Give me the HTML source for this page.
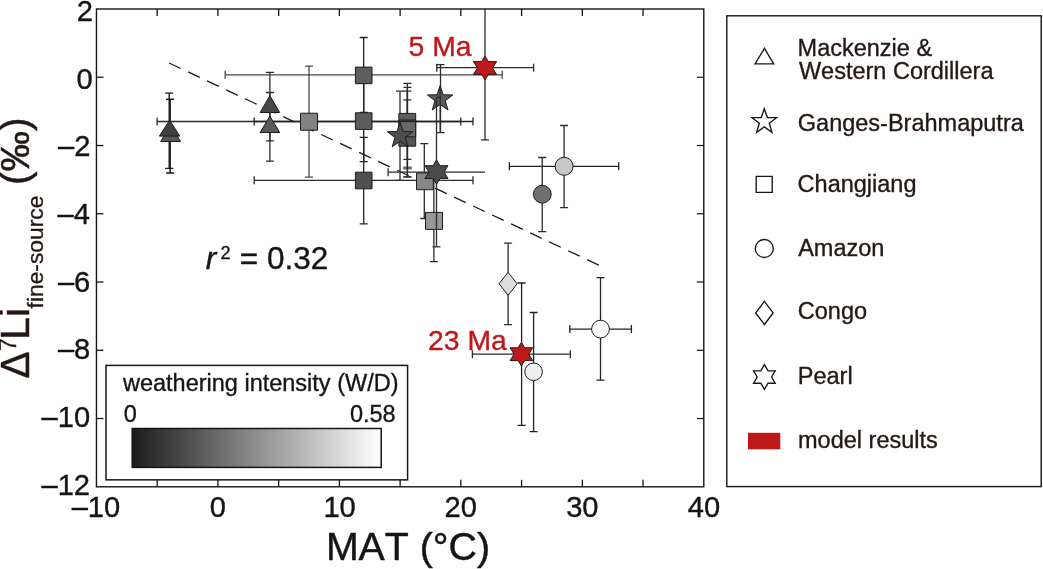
<!DOCTYPE html>
<html><head><meta charset="utf-8"><title>figure</title>
<style>html,body{margin:0;padding:0;background:#fff}svg{display:block}text{font-kerning:none}</style></head>
<body>
<svg width="1043" height="569" viewBox="0 0 1043 569" font-family="Liberation Sans, Arial, Helvetica, sans-serif">
<rect x="0" y="0" width="1043" height="569" fill="#fff"/>
<defs><linearGradient id="g" x1="0" x2="1" y1="0" y2="0"><stop offset="0" stop-color="#1c1c1c"/><stop offset="1" stop-color="#ffffff"/></linearGradient>
<clipPath id="cp"><rect x="96.45" y="9.0" width="607.3499999999999" height="477.8"/></clipPath></defs>
<line x1="169.1" y1="63.0" x2="599.0" y2="265.25" stroke="#1a1a1a" stroke-width="1.3" stroke-dasharray="12.85 8.15"/>
<g clip-path="url(#cp)">
<line x1="169.20" y1="93.10" x2="169.20" y2="168.30" stroke="#151515" stroke-width="1.35" />
<line x1="165.20" y1="93.10" x2="173.20" y2="93.10" stroke="#151515" stroke-width="1.35" />
<line x1="165.20" y1="168.30" x2="173.20" y2="168.30" stroke="#151515" stroke-width="1.35" />
<line x1="170.10" y1="99.30" x2="170.10" y2="173.00" stroke="#151515" stroke-width="1.5" />
<line x1="166.10" y1="99.30" x2="174.10" y2="99.30" stroke="#151515" stroke-width="1.5" />
<line x1="166.10" y1="173.00" x2="174.10" y2="173.00" stroke="#151515" stroke-width="1.5" />
<line x1="269.90" y1="72.40" x2="269.90" y2="140.80" stroke="#2b2b2b" stroke-width="1.3" />
<line x1="265.90" y1="72.40" x2="273.90" y2="72.40" stroke="#2b2b2b" stroke-width="1.3" />
<line x1="265.90" y1="140.80" x2="273.90" y2="140.80" stroke="#2b2b2b" stroke-width="1.3" />
<line x1="269.90" y1="92.50" x2="269.90" y2="161.20" stroke="#2b2b2b" stroke-width="1.3" />
<line x1="265.90" y1="92.50" x2="273.90" y2="92.50" stroke="#2b2b2b" stroke-width="1.3" />
<line x1="265.90" y1="161.20" x2="273.90" y2="161.20" stroke="#2b2b2b" stroke-width="1.3" />
<line x1="309.00" y1="66.10" x2="309.00" y2="177.10" stroke="#4a4a4a" stroke-width="1.3" />
<line x1="305.00" y1="66.10" x2="313.00" y2="66.10" stroke="#4a4a4a" stroke-width="1.3" />
<line x1="305.00" y1="177.10" x2="313.00" y2="177.10" stroke="#4a4a4a" stroke-width="1.3" />
<line x1="157.10" y1="121.50" x2="460.80" y2="121.50" stroke="#2b2b2b" stroke-width="1.3" />
<line x1="157.10" y1="117.50" x2="157.10" y2="125.50" stroke="#2b2b2b" stroke-width="1.3" />
<line x1="460.80" y1="117.50" x2="460.80" y2="125.50" stroke="#2b2b2b" stroke-width="1.3" />
<line x1="363.70" y1="37.50" x2="363.70" y2="112.30" stroke="#222" stroke-width="1.3" />
<line x1="359.70" y1="37.50" x2="367.70" y2="37.50" stroke="#222" stroke-width="1.3" />
<line x1="359.70" y1="112.30" x2="367.70" y2="112.30" stroke="#222" stroke-width="1.3" />
<line x1="225.20" y1="74.80" x2="502.20" y2="74.80" stroke="#454545" stroke-width="1.3" />
<line x1="225.20" y1="70.80" x2="225.20" y2="78.80" stroke="#454545" stroke-width="1.3" />
<line x1="502.20" y1="70.80" x2="502.20" y2="78.80" stroke="#454545" stroke-width="1.3" />
<line x1="363.70" y1="81.20" x2="363.70" y2="161.60" stroke="#222" stroke-width="1.3" />
<line x1="359.70" y1="81.20" x2="367.70" y2="81.20" stroke="#222" stroke-width="1.3" />
<line x1="359.70" y1="161.60" x2="367.70" y2="161.60" stroke="#222" stroke-width="1.3" />
<line x1="254.20" y1="121.50" x2="473.00" y2="121.50" stroke="#222" stroke-width="1.3" />
<line x1="254.20" y1="117.50" x2="254.20" y2="125.50" stroke="#222" stroke-width="1.3" />
<line x1="473.00" y1="117.50" x2="473.00" y2="125.50" stroke="#222" stroke-width="1.3" />
<line x1="363.70" y1="137.30" x2="363.70" y2="223.80" stroke="#222" stroke-width="1.3" />
<line x1="359.70" y1="137.30" x2="367.70" y2="137.30" stroke="#222" stroke-width="1.3" />
<line x1="359.70" y1="223.80" x2="367.70" y2="223.80" stroke="#222" stroke-width="1.3" />
<line x1="254.20" y1="180.30" x2="473.00" y2="180.30" stroke="#2b2b2b" stroke-width="1.3" />
<line x1="254.20" y1="176.30" x2="254.20" y2="184.30" stroke="#2b2b2b" stroke-width="1.3" />
<line x1="473.00" y1="176.30" x2="473.00" y2="184.30" stroke="#2b2b2b" stroke-width="1.3" />
<line x1="407.40" y1="83.40" x2="407.40" y2="159.40" stroke="#2b2b2b" stroke-width="1.3" />
<line x1="403.40" y1="83.40" x2="411.40" y2="83.40" stroke="#2b2b2b" stroke-width="1.3" />
<line x1="403.40" y1="159.40" x2="411.40" y2="159.40" stroke="#2b2b2b" stroke-width="1.3" />
<line x1="407.40" y1="87.40" x2="407.40" y2="168.10" stroke="#2b2b2b" stroke-width="1.3" />
<line x1="403.40" y1="87.40" x2="411.40" y2="87.40" stroke="#2b2b2b" stroke-width="1.3" />
<line x1="403.20" y1="168.00" x2="411.80" y2="168.00" stroke="#6a6a6a" stroke-width="3.2" />
<line x1="407.40" y1="91.20" x2="407.40" y2="176.80" stroke="#2b2b2b" stroke-width="1.3" />
<line x1="403.40" y1="91.20" x2="411.40" y2="91.20" stroke="#2b2b2b" stroke-width="1.3" />
<line x1="403.40" y1="176.80" x2="411.40" y2="176.80" stroke="#2b2b2b" stroke-width="1.3" />
<line x1="407.40" y1="99.90" x2="407.40" y2="176.80" stroke="#2b2b2b" stroke-width="1.3" />
<line x1="403.40" y1="99.90" x2="411.40" y2="99.90" stroke="#2b2b2b" stroke-width="1.3" />
<line x1="403.40" y1="176.80" x2="411.40" y2="176.80" stroke="#2b2b2b" stroke-width="1.3" />
<line x1="424.30" y1="143.70" x2="424.30" y2="218.50" stroke="#2b2b2b" stroke-width="1.3" />
<line x1="420.30" y1="143.70" x2="428.30" y2="143.70" stroke="#2b2b2b" stroke-width="1.3" />
<line x1="420.30" y1="218.50" x2="428.30" y2="218.50" stroke="#2b2b2b" stroke-width="1.3" />
<line x1="433.90" y1="180.20" x2="433.90" y2="261.60" stroke="#2b2b2b" stroke-width="1.3" />
<line x1="429.90" y1="180.20" x2="437.90" y2="180.20" stroke="#2b2b2b" stroke-width="1.3" />
<line x1="429.90" y1="261.60" x2="437.90" y2="261.60" stroke="#2b2b2b" stroke-width="1.3" />
<line x1="400.00" y1="91.20" x2="400.00" y2="180.30" stroke="#2b2b2b" stroke-width="1.3" />
<line x1="396.00" y1="91.20" x2="404.00" y2="91.20" stroke="#2b2b2b" stroke-width="1.3" />
<line x1="396.00" y1="180.30" x2="404.00" y2="180.30" stroke="#2b2b2b" stroke-width="1.3" />
<line x1="440.50" y1="64.70" x2="440.50" y2="132.70" stroke="#2b2b2b" stroke-width="1.3" />
<line x1="436.50" y1="64.70" x2="444.50" y2="64.70" stroke="#2b2b2b" stroke-width="1.3" />
<line x1="436.50" y1="132.70" x2="444.50" y2="132.70" stroke="#2b2b2b" stroke-width="1.3" />
<line x1="542.20" y1="157.50" x2="542.20" y2="231.70" stroke="#2b2b2b" stroke-width="1.3" />
<line x1="538.20" y1="157.50" x2="546.20" y2="157.50" stroke="#2b2b2b" stroke-width="1.3" />
<line x1="538.20" y1="231.70" x2="546.20" y2="231.70" stroke="#2b2b2b" stroke-width="1.3" />
<line x1="564.10" y1="125.50" x2="564.10" y2="207.60" stroke="#2b2b2b" stroke-width="1.3" />
<line x1="560.10" y1="125.50" x2="568.10" y2="125.50" stroke="#2b2b2b" stroke-width="1.3" />
<line x1="560.10" y1="207.60" x2="568.10" y2="207.60" stroke="#2b2b2b" stroke-width="1.3" />
<line x1="509.40" y1="166.30" x2="618.70" y2="166.30" stroke="#222" stroke-width="1.3" />
<line x1="509.40" y1="162.30" x2="509.40" y2="170.30" stroke="#222" stroke-width="1.3" />
<line x1="618.70" y1="162.30" x2="618.70" y2="170.30" stroke="#222" stroke-width="1.3" />
<line x1="600.50" y1="277.60" x2="600.50" y2="380.20" stroke="#222" stroke-width="1.3" />
<line x1="596.50" y1="277.60" x2="604.50" y2="277.60" stroke="#222" stroke-width="1.3" />
<line x1="596.50" y1="380.20" x2="604.50" y2="380.20" stroke="#222" stroke-width="1.3" />
<line x1="569.80" y1="329.10" x2="631.40" y2="329.10" stroke="#222" stroke-width="1.3" />
<line x1="569.80" y1="325.10" x2="569.80" y2="333.10" stroke="#222" stroke-width="1.3" />
<line x1="631.40" y1="325.10" x2="631.40" y2="333.10" stroke="#222" stroke-width="1.3" />
<line x1="533.60" y1="312.50" x2="533.60" y2="431.70" stroke="#222" stroke-width="1.3" />
<line x1="529.60" y1="312.50" x2="537.60" y2="312.50" stroke="#222" stroke-width="1.3" />
<line x1="529.60" y1="431.70" x2="537.60" y2="431.70" stroke="#222" stroke-width="1.3" />
<line x1="508.10" y1="243.10" x2="508.10" y2="324.70" stroke="#2b2b2b" stroke-width="1.3" />
<line x1="504.10" y1="243.10" x2="512.10" y2="243.10" stroke="#2b2b2b" stroke-width="1.3" />
<line x1="504.10" y1="324.70" x2="512.10" y2="324.70" stroke="#2b2b2b" stroke-width="1.3" />
<line x1="485.00" y1="0.00" x2="485.00" y2="139.90" stroke="#2b2b2b" stroke-width="1.3" />
<line x1="481.00" y1="139.90" x2="489.00" y2="139.90" stroke="#2b2b2b" stroke-width="1.3" />
<line x1="436.80" y1="67.70" x2="533.60" y2="67.70" stroke="#2b2b2b" stroke-width="1.3" />
<line x1="436.80" y1="63.70" x2="436.80" y2="71.70" stroke="#2b2b2b" stroke-width="1.3" />
<line x1="533.60" y1="63.70" x2="533.60" y2="71.70" stroke="#2b2b2b" stroke-width="1.3" />
<line x1="521.60" y1="283.00" x2="521.60" y2="425.30" stroke="#222" stroke-width="1.3" />
<line x1="517.60" y1="283.00" x2="525.60" y2="283.00" stroke="#222" stroke-width="1.3" />
<line x1="517.60" y1="425.30" x2="525.60" y2="425.30" stroke="#222" stroke-width="1.3" />
<line x1="472.40" y1="354.20" x2="570.30" y2="354.20" stroke="#2b2b2b" stroke-width="1.3" />
<line x1="472.40" y1="350.20" x2="472.40" y2="358.20" stroke="#2b2b2b" stroke-width="1.3" />
<line x1="570.30" y1="350.20" x2="570.30" y2="358.20" stroke="#2b2b2b" stroke-width="1.3" />
</g>
<polygon points="170.60,125.60 180.60,141.50 160.60,141.50" fill="#585858" stroke="#1c1c1c" stroke-width="1.0" stroke-linejoin="miter"/>
<polygon points="169.60,120.20 179.80,136.10 159.40,136.10" fill="#414141" stroke="#1c1c1c" stroke-width="1.0" stroke-linejoin="miter"/>
<polygon points="269.90,116.10 279.70,132.50 260.10,132.50" fill="#5a5a5a" stroke="#1c1c1c" stroke-width="1.0" stroke-linejoin="miter"/>
<polygon points="269.90,95.70 279.70,112.50 260.10,112.50" fill="#484848" stroke="#1c1c1c" stroke-width="1.0" stroke-linejoin="miter"/>
<polygon points="300.50,113.20 317.50,113.20 317.50,130.20 300.50,130.20" fill="#828282" stroke="#1c1c1c" stroke-width="1.0" stroke-linejoin="miter"/>
<polygon points="355.40,67.10 372.00,67.10 372.00,83.70 355.40,83.70" fill="#5e5e5e" stroke="#1c1c1c" stroke-width="1.0" stroke-linejoin="miter"/>
<polygon points="355.40,112.80 372.00,112.80 372.00,129.40 355.40,129.40" fill="#5c5c5c" stroke="#1c1c1c" stroke-width="1.0" stroke-linejoin="miter"/>
<polygon points="355.40,172.20 372.00,172.20 372.00,188.80 355.40,188.80" fill="#505050" stroke="#1c1c1c" stroke-width="1.0" stroke-linejoin="miter"/>
<polygon points="398.90,113.40 415.70,113.40 415.70,130.20 398.90,130.20" fill="#5c5c5c" stroke="#1c1c1c" stroke-width="1.0" stroke-linejoin="miter"/>
<polygon points="398.90,129.40 415.70,129.40 415.70,146.20 398.90,146.20" fill="#555555" stroke="#1c1c1c" stroke-width="1.0" stroke-linejoin="miter"/>
<polygon points="398.90,120.00 415.70,120.00 415.70,136.80 398.90,136.80" fill="#686868" stroke="#1c1c1c" stroke-width="1.0" stroke-linejoin="miter"/>
<line x1="398.50" y1="121.30" x2="416.30" y2="121.30" stroke="#222" stroke-width="1.6" />
<polygon points="416.50,172.90 433.30,172.90 433.30,189.70 416.50,189.70" fill="#868686" stroke="#1c1c1c" stroke-width="1.0" stroke-linejoin="miter"/>
<polygon points="425.50,212.40 442.50,212.40 442.50,229.40 425.50,229.40" fill="#979797" stroke="#1c1c1c" stroke-width="1.0" stroke-linejoin="miter"/>
<polygon points="400.10,122.50 403.25,131.56 412.84,131.76 405.20,137.56 407.98,146.74 400.10,141.26 392.22,146.74 395.00,137.56 387.36,131.76 396.95,131.56" fill="#4f4f4f" stroke="#1c1c1c" stroke-width="1.0" stroke-linejoin="miter"/>
<polygon points="440.10,85.70 443.25,94.76 452.84,94.96 445.20,100.76 447.98,109.94 440.10,104.46 432.22,109.94 435.00,100.76 427.36,94.96 436.95,94.76" fill="#5a5a5a" stroke="#1c1c1c" stroke-width="1.0" stroke-linejoin="miter"/>
<line x1="440.20" y1="86.00" x2="440.20" y2="132.70" stroke="#2b2b2b" stroke-width="1.3" />
<line x1="436.50" y1="97.40" x2="436.50" y2="246.80" stroke="#2b2b2b" stroke-width="1.3" />
<line x1="432.50" y1="246.80" x2="440.50" y2="246.80" stroke="#2b2b2b" stroke-width="1.3" />
<line x1="436.50" y1="97.40" x2="440.70" y2="97.40" stroke="#2b2b2b" stroke-width="1.3" />
<line x1="388.10" y1="172.20" x2="485.00" y2="172.20" stroke="#2b2b2b" stroke-width="1.3" />
<line x1="388.10" y1="168.20" x2="388.10" y2="176.20" stroke="#2b2b2b" stroke-width="1.3" />
<polygon points="436.50,160.00 440.04,165.70 448.00,165.70 444.02,172.10 448.00,178.50 440.04,178.50 436.50,184.20 432.96,178.50 425.00,178.50 428.98,172.10 425.00,165.70 432.96,165.70" fill="#4a4a4a" stroke="#1c1c1c" stroke-width="1.0" stroke-linejoin="miter"/>
<circle cx="542.30" cy="194.20" r="8.90" fill="#707070" stroke="#1c1c1c" stroke-width="1.0"/>
<circle cx="564.10" cy="166.30" r="9.00" fill="#c8c8c8" stroke="#1c1c1c" stroke-width="1.0"/>
<circle cx="600.50" cy="329.10" r="8.90" fill="#ffffff" stroke="#1c1c1c" stroke-width="1.0"/>
<polygon points="508.10,272.30 517.10,283.80 508.10,295.30 499.10,283.80" fill="#dcdcdc" stroke="#1c1c1c" stroke-width="1.0" stroke-linejoin="miter"/>
<polygon points="485.00,56.20 488.44,61.60 496.60,61.60 492.52,68.00 496.60,74.40 488.44,74.40 485.00,79.80 481.56,74.40 473.40,74.40 477.48,68.00 473.40,61.60 481.56,61.60" fill="#be1818" stroke="#1c1c1c" stroke-width="1.0" stroke-linejoin="miter"/>
<circle cx="533.60" cy="371.80" r="8.80" fill="#eef0ee" stroke="#1c1c1c" stroke-width="1.0"/>
<polygon points="521.40,342.40 524.75,347.80 532.70,347.80 528.73,354.20 532.70,360.60 524.75,360.60 521.40,366.00 518.05,360.60 510.10,360.60 514.07,354.20 510.10,347.80 518.05,347.80" fill="#be1818" stroke="#1c1c1c" stroke-width="1.0" stroke-linejoin="miter"/>
<rect x="96.45" y="9.0" width="607.3499999999999" height="477.8" fill="none" stroke="#151515" stroke-width="1.4"/>
<line x1="157.19" y1="9.00" x2="157.19" y2="16.00" stroke="#151515" stroke-width="1.3" />
<line x1="157.19" y1="486.80" x2="157.19" y2="479.80" stroke="#151515" stroke-width="1.3" />
<line x1="217.92" y1="9.00" x2="217.92" y2="16.00" stroke="#151515" stroke-width="1.3" />
<line x1="217.92" y1="486.80" x2="217.92" y2="479.80" stroke="#151515" stroke-width="1.3" />
<line x1="278.65" y1="9.00" x2="278.65" y2="16.00" stroke="#151515" stroke-width="1.3" />
<line x1="278.65" y1="486.80" x2="278.65" y2="479.80" stroke="#151515" stroke-width="1.3" />
<line x1="339.39" y1="9.00" x2="339.39" y2="16.00" stroke="#151515" stroke-width="1.3" />
<line x1="339.39" y1="486.80" x2="339.39" y2="479.80" stroke="#151515" stroke-width="1.3" />
<line x1="400.12" y1="9.00" x2="400.12" y2="16.00" stroke="#151515" stroke-width="1.3" />
<line x1="400.12" y1="486.80" x2="400.12" y2="479.80" stroke="#151515" stroke-width="1.3" />
<line x1="460.86" y1="9.00" x2="460.86" y2="16.00" stroke="#151515" stroke-width="1.3" />
<line x1="460.86" y1="486.80" x2="460.86" y2="479.80" stroke="#151515" stroke-width="1.3" />
<line x1="521.59" y1="9.00" x2="521.59" y2="16.00" stroke="#151515" stroke-width="1.3" />
<line x1="521.59" y1="486.80" x2="521.59" y2="479.80" stroke="#151515" stroke-width="1.3" />
<line x1="582.33" y1="9.00" x2="582.33" y2="16.00" stroke="#151515" stroke-width="1.3" />
<line x1="582.33" y1="486.80" x2="582.33" y2="479.80" stroke="#151515" stroke-width="1.3" />
<line x1="643.06" y1="9.00" x2="643.06" y2="16.00" stroke="#151515" stroke-width="1.3" />
<line x1="643.06" y1="486.80" x2="643.06" y2="479.80" stroke="#151515" stroke-width="1.3" />
<line x1="96.45" y1="77.26" x2="103.45" y2="77.26" stroke="#151515" stroke-width="1.3" />
<line x1="703.80" y1="77.26" x2="696.80" y2="77.26" stroke="#151515" stroke-width="1.2" />
<line x1="96.45" y1="145.51" x2="103.45" y2="145.51" stroke="#151515" stroke-width="1.3" />
<line x1="703.80" y1="145.51" x2="696.80" y2="145.51" stroke="#151515" stroke-width="1.2" />
<line x1="96.45" y1="213.77" x2="103.45" y2="213.77" stroke="#151515" stroke-width="1.3" />
<line x1="703.80" y1="213.77" x2="696.80" y2="213.77" stroke="#151515" stroke-width="1.2" />
<line x1="96.45" y1="282.03" x2="103.45" y2="282.03" stroke="#151515" stroke-width="1.3" />
<line x1="703.80" y1="282.03" x2="696.80" y2="282.03" stroke="#151515" stroke-width="1.2" />
<line x1="96.45" y1="350.29" x2="103.45" y2="350.29" stroke="#151515" stroke-width="1.3" />
<line x1="703.80" y1="350.29" x2="696.80" y2="350.29" stroke="#151515" stroke-width="1.2" />
<line x1="96.45" y1="418.54" x2="103.45" y2="418.54" stroke="#151515" stroke-width="1.3" />
<line x1="703.80" y1="418.54" x2="696.80" y2="418.54" stroke="#151515" stroke-width="1.2" />
<text x="76.78" y="20.80" font-size="29.1" fill="#151515" stroke="#151515" stroke-width="0.37" >2</text>
<text x="76.45" y="88.50" font-size="29.1" fill="#151515" stroke="#151515" stroke-width="0.37" >0</text>
<text x="58.10" y="156.20" font-size="29.1" fill="#151515" stroke="#151515" stroke-width="0.37" >–2</text>
<text x="57.48" y="223.90" font-size="29.1" fill="#151515" stroke="#151515" stroke-width="0.37" >–4</text>
<text x="57.91" y="291.60" font-size="29.1" fill="#151515" stroke="#151515" stroke-width="0.37" >–6</text>
<text x="57.90" y="359.30" font-size="29.1" fill="#151515" stroke="#151515" stroke-width="0.37" >–8</text>
<text x="41.58" y="427.00" font-size="29.1" fill="#151515" stroke="#151515" stroke-width="0.37" >–10</text>
<text x="41.51" y="494.70" font-size="29.1" fill="#151515" stroke="#151515" stroke-width="0.37" >–12</text>
<text x="71.69" y="517.40" font-size="29.1" fill="#151515" stroke="#151515" stroke-width="0.37" >–10</text>
<text x="209.83" y="517.40" font-size="29.1" fill="#151515" stroke="#151515" stroke-width="0.37" >0</text>
<text x="323.38" y="517.40" font-size="29.1" fill="#151515" stroke="#151515" stroke-width="0.37" >10</text>
<text x="444.51" y="517.40" font-size="29.1" fill="#151515" stroke="#151515" stroke-width="0.37" >20</text>
<text x="566.16" y="517.40" font-size="29.1" fill="#151515" stroke="#151515" stroke-width="0.37" >30</text>
<text x="687.85" y="517.40" font-size="29.1" fill="#151515" stroke="#151515" stroke-width="0.37" >40</text>
<text x="325.88" y="559.80" font-size="39.3" fill="#151515" stroke="#151515" stroke-width="0.44" >MAT (°C)</text>
<g transform="translate(29.1,380) rotate(-90)" fill="#231815">
<text x="1.49" y="0.00" font-size="40.5" fill="#231815" stroke="#231815" stroke-width="0.44" >Δ</text>
<text x="28.80" y="-13.40" font-size="23.5" fill="#231815" stroke="#231815" stroke-width="0.34" >7</text>
<text x="40.38" y="0.00" font-size="40.5" fill="#231815" stroke="#231815" stroke-width="0.44" >Li</text>
<text x="71.58" y="13.60" font-size="22.8" fill="#231815" stroke="#231815" stroke-width="0.34" >fine-source</text>
<text x="194.99" y="0.00" font-size="40.5" fill="#231815" stroke="#231815" stroke-width="0.44" >(‰)</text>
</g>
<text x="205.68" y="269.20" font-size="31.5" fill="#151515" stroke="#151515" stroke-width="0.39" font-style="italic" >r</text>
<text x="220.48" y="259.10" font-size="18.2" fill="#151515" stroke="#151515" stroke-width="0.31" >2</text>
<text x="239.76" y="268.50" font-size="31.5" fill="#151515" stroke="#151515" stroke-width="0.45">=</text>
<text x="266.97" y="269.20" font-size="31.5" fill="#151515" stroke="#151515" stroke-width="0.39" >0.32</text>
<text x="408.57" y="56.00" font-size="28.3" fill="#be1818" stroke="#be1818" stroke-width="0.37" >5 Ma</text>
<text x="428.08" y="350.30" font-size="28.3" fill="#be1818" stroke="#be1818" stroke-width="0.37" >23 Ma</text>
<rect x="106.0" y="365.4" width="301.6" height="114.45" fill="#fff" stroke="#151515" stroke-width="1.5"/>
<text x="122.93" y="390.50" font-size="23.5" fill="#151515" stroke="#151515" stroke-width="0.34" >weathering intensity (W/D)</text>
<text x="123.78" y="422.20" font-size="23.5" fill="#151515" stroke="#151515" stroke-width="0.34" >0</text>
<text x="349.88" y="422.20" font-size="23.5" fill="#151515" stroke="#151515" stroke-width="0.34" >0.58</text>
<rect x="132.2" y="428.5" width="249.0" height="38.9" fill="url(#g)" stroke="#151515" stroke-width="1.5"/>
<rect x="726.8" y="15.8" width="314.4" height="470.8" fill="#fff" stroke="#151515" stroke-width="1.4"/>
<text x="797.57" y="55.60" font-size="23.5" fill="#231815" stroke="#231815" stroke-width="0.34" >Mackenzie &amp;</text>
<text x="798.90" y="79.30" font-size="23.5" fill="#231815" stroke="#231815" stroke-width="0.34" >Western Cordillera</text>
<text x="797.82" y="130.50" font-size="23.5" fill="#231815" stroke="#231815" stroke-width="0.34" >Ganges-Brahmaputra</text>
<text x="797.61" y="192.40" font-size="23.5" fill="#231815" stroke="#231815" stroke-width="0.34" >Changjiang</text>
<text x="798.15" y="255.70" font-size="23.5" fill="#231815" stroke="#231815" stroke-width="0.34" >Amazon</text>
<text x="797.81" y="318.60" font-size="23.5" fill="#231815" stroke="#231815" stroke-width="0.34" >Congo</text>
<text x="797.77" y="384.00" font-size="23.5" fill="#231815" stroke="#231815" stroke-width="0.34" >Pearl</text>
<text x="798.04" y="447.80" font-size="23.5" fill="#231815" stroke="#231815" stroke-width="0.34" >model results</text>
<polygon points="764.40,48.30 773.70,63.90 755.10,63.90" fill="#fff" stroke="#151515" stroke-width="1.35" stroke-linejoin="miter"/>
<polygon points="764.30,108.70 767.36,117.49 776.66,117.68 769.25,123.31 771.94,132.22 764.30,126.90 756.66,132.22 759.35,123.31 751.94,117.68 761.24,117.49" fill="#fff" stroke="#151515" stroke-width="1.35" stroke-linejoin="miter"/>
<polygon points="756.20,176.30 772.20,176.30 772.20,192.30 756.20,192.30" fill="#fff" stroke="#151515" stroke-width="1.35" stroke-linejoin="miter"/>
<circle cx="764.30" cy="248.50" r="9.00" fill="#fff" stroke="#151515" stroke-width="1.35"/>
<polygon points="764.40,301.30 773.10,312.90 764.40,324.50 755.70,312.90" fill="#fff" stroke="#151515" stroke-width="1.35" stroke-linejoin="miter"/>
<polygon points="764.40,364.60 768.00,370.80 775.20,370.80 771.60,377.00 775.20,383.20 768.00,383.20 764.40,389.40 760.80,383.20 753.60,383.20 757.20,377.00 753.60,370.80 760.80,370.80" fill="#fff" stroke="#151515" stroke-width="1.35" stroke-linejoin="miter"/>
<rect x="748" y="432.8" width="32.3" height="16.5" fill="#be1818"/>
</svg>
</body></html>
